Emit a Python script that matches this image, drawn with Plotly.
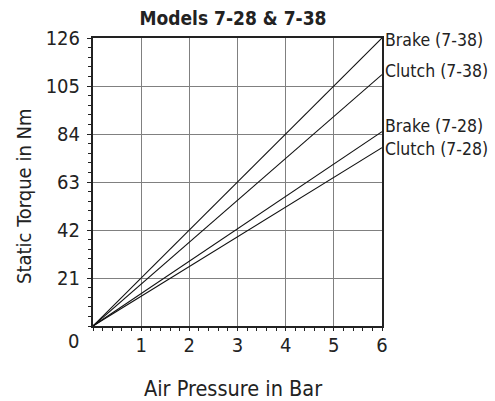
import plotly.graph_objects as go

# Air pressure (bar) and static torque (Nm) at the ends of each linear curve
pressure = [0, 6]
brake_738 = [0, 126]
clutch_738 = [0, 110]
brake_728 = [0, 85]
clutch_728 = [0, 78]

series_names = ["Brake (7-38)", "Clutch (7-38)", "Brake (7-28)", "Clutch (7-28)"]
series_values = [brake_738, clutch_738, brake_728, clutch_728]
label_yshift = [-2, 4, 6, -1]

x_ticks = [1, 2, 3, 4, 5, 6]
y_ticks = [21, 42, 63, 84, 105, 126]

FONT = "DejaVu Sans Condensed, Liberation Sans Narrow, sans-serif"
INK = "#222222"

fig = go.Figure()
for name, vals in zip(series_names, series_values):
    fig.add_trace(go.Scatter(
        x=pressure, y=vals, mode="lines", name=name,
        line=dict(color="#111111", width=1.1),
        hoverinfo="skip", showlegend=False,
    ))

annotations = []
for name, vals, dy in zip(series_names, series_values, label_yshift):
    annotations.append(dict(
        x=pressure[-1], y=vals[-1], xref="x", yref="y",
        text=name, showarrow=False, xanchor="left", yanchor="middle",
        xshift=1, yshift=dy,
        font=dict(family=FONT, size=17.5, color=INK),
    ))
# Shared origin label
annotations.append(dict(
    x=0, y=0, xref="x", yref="y", text="0", showarrow=False,
    xanchor="right", yanchor="middle", xshift=-12, yshift=-15,
    font=dict(family=FONT, size=20, color=INK),
))
# Axis titles (placed in pixels, converted to paper coordinates below)
annotations.append(dict(
    x=233, y=388, xref="paper", yref="paper", text="Air Pressure in Bar",
    showarrow=False, xanchor="center", yanchor="middle",
    font=dict(family=FONT, size=21.5, color=INK),
))
annotations.append(dict(
    x=24, y=196, xref="paper", yref="paper", text="Static Torque in Nm",
    showarrow=False, xanchor="center", yanchor="middle", textangle=-90,
    font=dict(family=FONT, size=20, color=INK),
))

W, H = 495, 401
L, R, T, B = 93, 113, 38, 75
pw, ph = W - L - R, H - T - B
for a in annotations[-2:]:
    a["x"] = (a["x"] - L) / pw
    a["y"] = (H - B - a["y"]) / ph

fig.update_layout(
    width=W, height=H,
    margin=dict(l=L, r=R, t=T, b=B),
    paper_bgcolor="white", plot_bgcolor="white",
    title=dict(
        text="<b>Models 7-28 &amp; 7-38</b>",
        x=233 / W, xanchor="center", y=1 - 18 / H, yanchor="middle",
        font=dict(family=FONT, size=19, color=INK),
    ),
    annotations=annotations,
)

fig.update_xaxes(
    range=[0, 6], tickvals=x_ticks,
    showgrid=True, gridcolor="#808080", gridwidth=1,
    showline=True, linecolor=INK, linewidth=2, mirror=True,
    ticks="outside", ticklen=3, tickcolor=INK, tickwidth=1,
    ticklabelstandoff=-3,
    minor=dict(dtick=0.2, ticks="outside", ticklen=3, tickcolor=INK, showgrid=False),
    tickfont=dict(family=FONT, size=20, color=INK),
    zeroline=False,
)
fig.update_yaxes(
    range=[0, 126], tickvals=y_ticks,
    showgrid=True, gridcolor="#808080", gridwidth=1,
    showline=True, linecolor=INK, linewidth=2, mirror=True,
    ticks="outside", ticklen=4, tickcolor=INK, tickwidth=1,
    ticklabelstandoff=3,
    minor=dict(dtick=4.2, ticks="outside", ticklen=3, tickcolor=INK, showgrid=False),
    tickfont=dict(family=FONT, size=20, color=INK),
    zeroline=False,
)

fig.write_html("out.html")
